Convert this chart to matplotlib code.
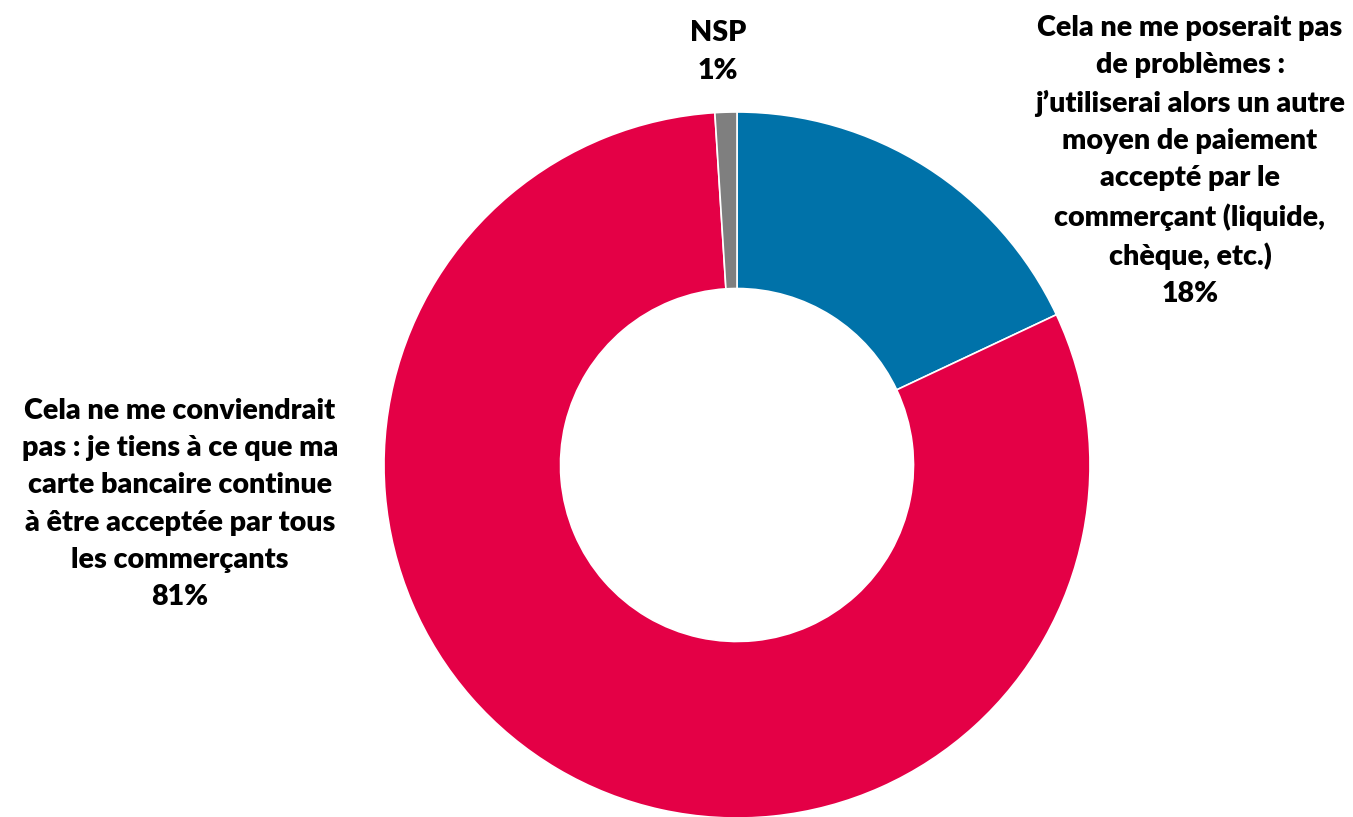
import matplotlib.pyplot as plt

# data
labels = [
    "Cela ne me poserait pas\nde problèmes :\nj’utiliserai alors un autre\nmoyen de paiement\naccepté par le\ncommerçant (liquide,\nchèque, etc.)",
    "Cela ne me conviendrait\npas : je tiens à ce que ma\ncarte bancaire continue\nà être acceptée par tous\nles commerçants",
    "NSP",
]
values = [18, 81, 1]
colors = ["#0072A9", "#E40046", "#7F7F7F"]

W, H = 1353, 817
fig = plt.figure(figsize=(W / 100, H / 100), dpi=100)
ax = fig.add_axes([0, 0, 1, 1])

cx, cy, r = 737, H - 465, 353
ax.pie(values, colors=colors, startangle=90, counterclock=False,
       center=(cx, cy), radius=r,
       wedgeprops=dict(width=r * 0.5, edgecolor="white", linewidth=1.2))
ax.set_xlim(0, W)
ax.set_ylim(0, H)
ax.set_aspect("auto")
ax.axis("off")

font = dict(family="Lato", weight="heavy", fontsize=20.6, ha="center",
            va="center", linespacing=1.53, color="black")
# label positions in pixels from top-left
pos = [(1190, 161), (180, 504), (718, 52)]
for lab, v, (x, y) in zip(labels, values, pos):
    ax.text(x, H - y, f"{lab}\n{v}%", **font)

fig.savefig("out.png", dpi=100)
